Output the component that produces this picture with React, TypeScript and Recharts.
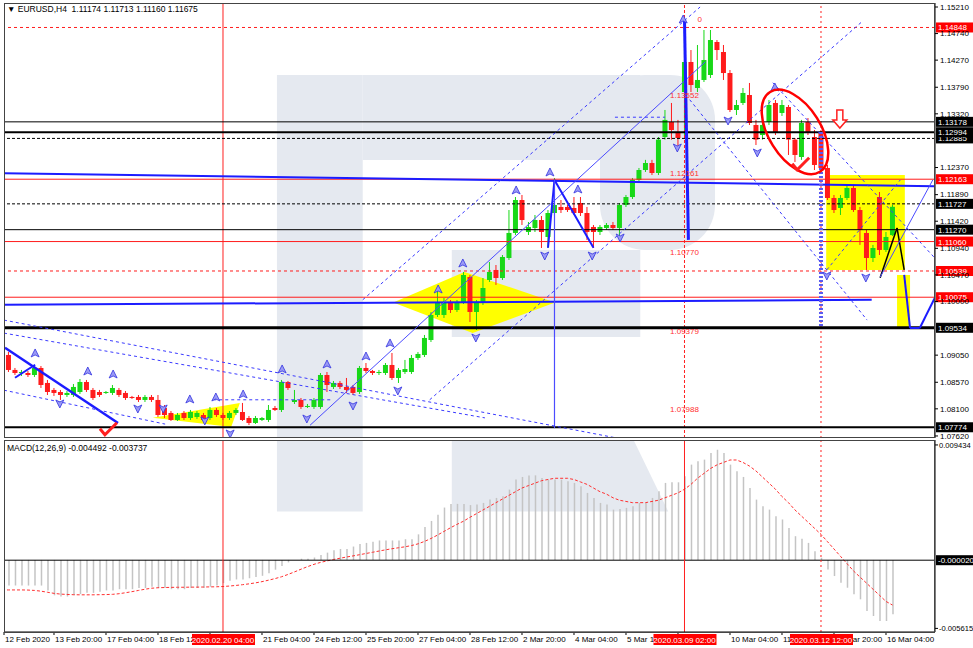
import React from 'react';
import {
  ComposedChart,
  Bar,
  Line,
  Scatter,
  XAxis,
  YAxis,
  ReferenceLine,
  ReferenceArea,
  ReferenceDot,
} from 'recharts';

const FONT = '"Liberation Sans", Arial, sans-serif';
const GREEN = '#18d818';
const RED = '#ff1c1c';
const BLUE = '#1c1cff';
const SHADE = '#e5e9f0';

// H4 candles, bar 1 .. 138
const opens = [
  1.09141, 1.09053, 1.08788, 1.08734, 1.08734, 1.08699, 1.08823, 1.08558, 1.08434, 1.08398,
  1.08345, 1.08345, 1.08398, 1.08575, 1.08434, 1.08398, 1.08381, 1.08381, 1.08434, 1.08381,
  1.0831, 1.0831, 1.08257, 1.0831, 1.08257, 1.08115, 1.08027, 1.07903, 1.08027, 1.07938,
  1.07956, 1.07991, 1.07938, 1.0808, 1.07991, 1.07938, 1.08027, 1.08044, 1.07938, 1.0785,
  1.07903, 1.07903, 1.08115, 1.0808, 1.08575, 1.08221, 1.08257, 1.08133, 1.08133, 1.08133,
  1.08699, 1.08487, 1.08558, 1.08487, 1.08487, 1.08398, 1.08823, 1.0877, 1.08734, 1.08734,
  1.08876, 1.08646, 1.08752, 1.08752, 1.09, 1.09053, 1.09318, 1.09761, 1.09761, 1.09991,
  1.09849, 1.09991, 1.10433, 1.09814, 1.09973, 1.1038, 1.10557, 1.10415, 1.10769, 1.11212,
  1.11795, 1.11229, 1.113, 1.11441, 1.11141, 1.11565, 1.11672, 1.11672, 1.11654, 1.11742,
  1.11565, 1.11318, 1.11229, 1.113, 1.11353, 1.113, 1.11707, 1.11848, 1.12149, 1.12326,
  1.1245, 1.12273, 1.1291, 1.13176, 1.12999, 1.13706, 1.14237, 1.13777, 1.13919, 1.14007,
  1.14591, 1.14414, 1.14042, 1.13388, 1.13512, 1.13653, 1.13122, 1.12945, 1.13176, 1.13512,
  1.13335, 1.13441, 1.12864, 1.12556, 1.13176, 1.1291, 1.12999, 1.12362, 1.11831, 1.11654,
  1.11831, 1.12008, 1.11618, 1.11212, 1.10769, 1.11848, 1.10911, 1.11174,
];
const highs = [
  1.09195, 1.09106, 1.08823, 1.08788, 1.0877, 1.08876, 1.08858, 1.08611, 1.08469, 1.08434,
  1.08416, 1.0854, 1.08628, 1.08611, 1.08469, 1.08434, 1.08416, 1.08522, 1.08469, 1.08416,
  1.08328, 1.08345, 1.08345, 1.08345, 1.08345, 1.08168, 1.08062, 1.08027, 1.08062, 1.0808,
  1.08062, 1.08027, 1.08133, 1.08115, 1.08027, 1.08062, 1.08115, 1.08204, 1.07974, 1.07974,
  1.07956, 1.08168, 1.08151, 1.08611, 1.08593, 1.08434, 1.08292, 1.08186, 1.08292, 1.08734,
  1.08752, 1.08593, 1.08593, 1.08646, 1.08522, 1.08858, 1.08911, 1.08788, 1.08788, 1.08911,
  1.09088, 1.08823, 1.08965, 1.09053, 1.09106, 1.09407, 1.09814, 1.10238, 1.10061, 1.10026,
  1.10026, 1.10522, 1.10468, 1.10026, 1.10415, 1.10698, 1.10645, 1.10822, 1.11618, 1.11848,
  1.11884, 1.11406, 1.1153, 1.11512, 1.11618, 1.12185, 1.11795, 1.11707, 1.11848, 1.11848,
  1.11672, 1.11353, 1.11353, 1.11388, 1.11406, 1.11742, 1.11884, 1.12185, 1.12362, 1.12505,
  1.12505, 1.1291, 1.13388, 1.13512, 1.13212, 1.15016, 1.14449, 1.14538, 1.14803, 1.14803,
  1.14626, 1.14538, 1.14095, 1.13565, 1.13777, 1.13866, 1.13212, 1.13212, 1.13565, 1.13565,
  1.13565, 1.13476, 1.12892, 1.13212, 1.13246, 1.13034, 1.13034, 1.12415, 1.11884, 1.11884,
  1.12061, 1.12061, 1.11672, 1.11265, 1.11, 1.11937, 1.11229, 1.11713,
];
const lows = [
  1.08858, 1.08752, 1.08699, 1.08681, 1.08664, 1.08664, 1.08469, 1.08345, 1.08328, 1.08257,
  1.0831, 1.0831, 1.08363, 1.08398, 1.08257, 1.0831, 1.08363, 1.08345, 1.0831, 1.08257,
  1.08275, 1.08221, 1.08221, 1.08221, 1.07956, 1.07938, 1.07885, 1.07885, 1.07903, 1.07903,
  1.07921, 1.07885, 1.07903, 1.07956, 1.07903, 1.07903, 1.07991, 1.07885, 1.07814, 1.07832,
  1.07885, 1.07868, 1.08062, 1.08044, 1.08434, 1.08186, 1.08098, 1.08115, 1.08098, 1.08098,
  1.08398, 1.08451, 1.08451, 1.08381, 1.08345, 1.08363, 1.08734, 1.08699, 1.08699, 1.08699,
  1.08611, 1.08558, 1.08717, 1.08717, 1.08965, 1.09017, 1.09283, 1.09725, 1.09708, 1.09796,
  1.09814, 1.09955, 1.09637, 1.09495, 1.09938, 1.10345, 1.10292, 1.1038, 1.10734, 1.11176,
  1.11353, 1.11176, 1.11229, 1.10946, 1.10946, 1.11512, 1.11565, 1.11583, 1.1153, 1.11512,
  1.11088, 1.10946, 1.11176, 1.11265, 1.11265, 1.11158, 1.11672, 1.11813, 1.12114, 1.12291,
  1.12237, 1.12237, 1.12864, 1.12864, 1.1268, 1.12945, 1.13706, 1.13706, 1.13883, 1.13954,
  1.14272, 1.13919, 1.13352, 1.13299, 1.13476, 1.13122, 1.12768, 1.12864, 1.13122, 1.12945,
  1.13282, 1.12592, 1.12468, 1.12505, 1.12945, 1.12326, 1.12291, 1.11795, 1.11565, 1.1153,
  1.11795, 1.11583, 1.11, 1.10557, 1.10698, 1.10822, 1.10875, 1.1116,
];
const closes = [
  1.08911, 1.08788, 1.08734, 1.08752, 1.08699, 1.08823, 1.08522, 1.08398, 1.08381, 1.08345,
  1.08381, 1.08487, 1.08575, 1.08434, 1.08292, 1.08345, 1.08398, 1.08469, 1.08345, 1.08292,
  1.08292, 1.08257, 1.0831, 1.08257, 1.07991, 1.07991, 1.07903, 1.07991, 1.07938, 1.08044,
  1.08027, 1.07903, 1.0808, 1.07991, 1.07938, 1.08027, 1.0808, 1.07903, 1.0785, 1.07938,
  1.07938, 1.0808, 1.0808, 1.08575, 1.08469, 1.08257, 1.08133, 1.08151, 1.08257, 1.08699,
  1.08522, 1.08558, 1.08487, 1.08434, 1.08381, 1.08823, 1.0877, 1.08734, 1.08752, 1.08876,
  1.08646, 1.08788, 1.08805, 1.09, 1.09071, 1.09354, 1.09761, 1.09973, 1.09991, 1.09849,
  1.09991, 1.10468, 1.09814, 1.09973, 1.10238, 1.10522, 1.10415, 1.10787, 1.11212, 1.11795,
  1.11441, 1.11318, 1.11441, 1.11229, 1.11565, 1.11707, 1.11618, 1.11618, 1.11565, 1.11565,
  1.11229, 1.11229, 1.11318, 1.11353, 1.113, 1.11707, 1.11848, 1.12149, 1.12326, 1.1245,
  1.12273, 1.12864, 1.13212, 1.13034, 1.12892, 1.14237, 1.1383, 1.13919, 1.14272, 1.14626,
  1.14449, 1.14042, 1.13388, 1.13476, 1.13689, 1.13158, 1.12864, 1.13122, 1.13476, 1.12999,
  1.13476, 1.12864, 1.12592, 1.13158, 1.12999, 1.12415, 1.12362, 1.11831, 1.11618, 1.11831,
  1.12008, 1.11618, 1.11265, 1.10769, 1.10946, 1.10911, 1.11141, 1.11675,
];

// MACD(12,26,9): histogram and signal
const macdHist = [
  -0.0021, -0.0021, -0.0021, -0.0021, -0.0021, -0.0021, -0.0021, -0.0025, -0.0029, -0.003,
  -0.003, -0.0029, -0.0028, -0.0027, -0.0027, -0.0026, -0.0025, -0.0025, -0.0024, -0.0024,
  -0.0024, -0.0023, -0.0023, -0.0022, -0.0023, -0.0023, -0.0024, -0.0024, -0.0024, -0.0023,
  -0.0023, -0.0023, -0.0022, -0.0021, -0.0019, -0.0017, -0.0016, -0.0016, -0.0015, -0.0014,
  -0.0013, -0.0011, -0.0008, -0.0005, -0.0002, 0.0, 0.0001, 0.0001, 0.0002, 0.0004,
  0.0006, 0.0008, 0.0009, 0.0009, 0.0011, 0.0013, 0.0014, 0.0015, 0.0016, 0.0016,
  0.0016, 0.0016, 0.0017, 0.0017, 0.0021, 0.0027, 0.0032, 0.0037, 0.0043, 0.0046,
  0.0046, 0.0046, 0.0045, 0.00454, 0.00468, 0.00495, 0.00509, 0.00522, 0.00577, 0.00659,
  0.00681, 0.00692, 0.00694, 0.00673, 0.00659, 0.00659, 0.00659, 0.00645, 0.00632, 0.00604,
  0.0055, 0.00509, 0.00468, 0.00454, 0.00413, 0.00419, 0.00427, 0.00441, 0.00468, 0.00468,
  0.00509, 0.00563, 0.00632, 0.00637, 0.00637, 0.00686, 0.00782, 0.00809, 0.00823, 0.00877,
  0.00904, 0.00877, 0.00782, 0.00727, 0.00681, 0.00591, 0.00495, 0.00441, 0.00413, 0.00359,
  0.00332, 0.00263, 0.00195, 0.00173, 0.0014, 0.00072, 0.00018, -0.00078, -0.00132, -0.00187,
  -0.00228, -0.00282, -0.00323, -0.00419, -0.0046, -0.00501, -0.00501, -0.00446,
];
const macdSignal = [
  -0.00246, -0.00246, -0.00246, -0.00246, -0.00247, -0.0025, -0.00256, -0.00265, -0.00274, -0.0028,
  -0.00283, -0.00285, -0.00286, -0.00286, -0.00286, -0.00285, -0.00284, -0.00282, -0.00277, -0.00269,
  -0.0026, -0.0025, -0.0024, -0.00232, -0.00228, -0.00226, -0.00225, -0.00224, -0.00224, -0.00223,
  -0.00223, -0.00222, -0.00221, -0.0022, -0.00218, -0.00214, -0.00209, -0.00203, -0.00196, -0.00188,
  -0.00178, -0.00166, -0.00153, -0.00138, -0.00119, -0.00098, -0.00076, -0.00055, -0.00036, -0.0002,
  -0.00008, 0.00004, 0.00014, 0.00024, 0.00033, 0.00043, 0.00053, 0.00063, 0.00073, 0.00083,
  0.00092, 0.001, 0.00108, 0.00118, 0.00132, 0.00152, 0.00176, 0.00204, 0.00234, 0.00264,
  0.00292, 0.00318, 0.0035, 0.0038, 0.0041, 0.0044, 0.0047, 0.005, 0.0053, 0.0056,
  0.0059, 0.0061, 0.0063, 0.0065, 0.0066, 0.0067, 0.0067, 0.0067, 0.0066, 0.0064,
  0.0062, 0.0059, 0.0056, 0.0054, 0.0051, 0.0049, 0.0048, 0.0047, 0.0047, 0.0047,
  0.0048, 0.0049, 0.0051, 0.0053, 0.0055, 0.0058, 0.0062, 0.0067, 0.0071, 0.0075,
  0.0078, 0.008, 0.0082, 0.0082, 0.008, 0.0077, 0.0073, 0.0068, 0.0063, 0.0058,
  0.0052, 0.0047, 0.0041, 0.0036, 0.0031, 0.0026, 0.0021, 0.0015, 0.0009, 0.0003,
  -0.0003, -0.0009, -0.0014, -0.0019, -0.0024, -0.0029, -0.0034, -0.0037,
];

const timeLabels = [
  '12 Feb 2020', '13 Feb 20:00', '17 Feb 04:00', '18 Feb 12:00', '19 Feb 20:00', '21 Feb 04:00',
  '24 Feb 12:00', '25 Feb 20:00', '27 Feb 04:00', '28 Feb 12:00', '2 Mar 20:00', '4 Mar 04:00',
  '5 Mar 12:00', '6 Mar 20:00', '10 Mar 04:00', '11 Mar 12:00', '12 Mar 20:00', '16 Mar 04:00',
];
const priceTicks = [
  1.1521, 1.1474, 1.1427, 1.1379, 1.1332, 1.1237, 1.1189, 1.1142, 1.1094, 1.1047, 1.1,
  1.0905, 1.0857, 1.081, 1.0762,
];
const macdTicks = [0.009434, -0.005615];

// horizontal price levels drawn on the chart
const levels = [
  { price: 1.14848, color: RED, width: 1, dash: '3 3' },
  { price: 1.13178, color: '#000', width: 1, dash: undefined },
  { price: 1.12885, color: '#000', width: 1, dash: '3 2' },
  { price: 1.12994, color: '#000', width: 2, dash: undefined },
  { price: 1.12163, color: RED, width: 1, dash: undefined },
  { price: 1.11727, color: '#000', width: 1, dash: '3 2' },
  { price: 1.1127, color: '#000', width: 1, dash: undefined },
  { price: 1.1106, color: RED, width: 1, dash: undefined },
  { price: 1.10539, color: RED, width: 1, dash: '3 3' },
  { price: 1.10075, color: RED, width: 1, dash: undefined },
  { price: 1.09534, color: '#000', width: 3, dash: undefined },
  { price: 1.07774, color: '#000', width: 2, dash: undefined },
];
const fibLevels = [1.13552, 1.12161, 1.1077, 1.09379, 1.07988];
const markerBars = [
  { bar: 35, text: '2020.02.20 04:00', dash: undefined },
  { bar: 106, text: '2020.03.09 02:00', dash: '3 2' },
  { bar: 127, text: '2020.03.12 12:00', dash: '2 3' },
];

// fractal arrows: bar, price, pointing up (true) or down (false)
const fractalBars = [
  6.1, 9.9, 14.2, 18.1, 21.9, 25.8, 29.9, 32.2, 33.9, 36.1, 38.1, 44.1, 47.9, 51, 57, 55,
  60.7, 61.9, 68.1, 71.9, 73.9, 80.1, 85.3, 84.5, 89.6, 91.8, 96.1, 104.9, 105.8, 112.7,
  117.2, 119.9, 127.9, 133.9,
];
const fractalPrices = [
  1.09071, 1.08204, 1.08752, 1.08699, 1.08115, 1.08115, 1.08257, 1.07903, 1.08292, 1.07673,
  1.08345, 1.08788, 1.07938, 1.08876, 1.09017, 1.08168, 1.09248, 1.08434, 1.10203, 1.10663,
  1.09371, 1.11955, 1.12273, 1.10822, 1.11972, 1.10822, 1.11141, 1.12733, 1.1498, 1.13211,
  1.12645, 1.13777, 1.10468, 1.10433,
];
const fractalUp = [
  true, false, true, true, false, false, true, false, true, false, true, true, false, true, true, false,
  true, false, true, true, false, true, true, false, true, false, false, false, true, false,
  false, true, false, false,
];

const data = opens.map((o, i) => ({
  bar: i + 1,
  o,
  h: highs[i],
  l: lows[i],
  c: closes[i],
  hist: macdHist[i],
  signal: macdSignal[i],
}));
const fractalData = fractalBars.map((b, i) => ({ bar: b, price: fractalPrices[i], up: fractalUp[i] }));

const X_DOMAIN: [number, number] = [1.31, 144.54];
const MACD_DOMAIN: [number, number] = [-0.00591, 0.00984];
const tickBars = timeLabels.map((_, i) => Math.max(1.31, 1 + 8 * i));

type Seg = { pts: [number, number][]; color: string; width: number; dash?: string };
const drawings: Seg[] = [
  { pts: [[1.31, 1.1227], [144.5, 1.1204]], color: BLUE, width: 2 },
  { pts: [[1.31, 1.0994], [134.8, 1.1003]], color: BLUE, width: 2 },
  { pts: [[48.4, 1.0781], [109.2, 1.1424]], color: '#4b4bff', width: 1 },
  { pts: [[1.46, 1.0918], [18.85, 1.0785]], color: BLUE, width: 2.5 },
  { pts: [[3.0, 1.0865], [6.1, 1.0888]], color: BLUE, width: 2 },
  { pts: [[85, 1.1095], [86, 1.1215], [92, 1.1095]], color: BLUE, width: 2 },
  { pts: [[86, 1.1215], [86, 1.0776]], color: '#4b4bff', width: 1.2 },
  { pts: [[106, 1.1498], [106.6, 1.1109]], color: BLUE, width: 3 },
  { pts: [[127, 1.13], [127, 1.0953]], color: '#5a5af0', width: 4, dash: '2 2' },
  { pts: [[136.1, 1.1042], [138.7, 1.113], [139.8, 1.1056]], color: '#000', width: 1.5 },
  { pts: [[139.8, 1.1047], [140.7, 1.0953], [142.2, 1.0953], [144.5, 1.1006]], color: BLUE, width: 2 },
  { pts: [[136.1, 1.1043], [144.2, 1.1215]], color: '#4b4bff', width: 1 },
  { pts: [[1.31, 1.0967], [95.3, 1.0759]], color: '#3a3aff', width: 1, dash: '3 3' },
  { pts: [[1.31, 1.0944], [75.3, 1.0794]], color: '#3a3aff', width: 1, dash: '3 3' },
  { pts: [[1.31, 1.0843], [26.1, 1.0783]], color: '#3a3aff', width: 1, dash: '3 3' },
  { pts: [[56.5, 1.1003], [108.4, 1.1521]], color: '#3a3aff', width: 1, dash: '3 3' },
  { pts: [[66.8, 1.0826], [133.3, 1.1495]], color: '#3a3aff', width: 1, dash: '3 3' },
  { pts: [[119.6, 1.1387], [144.5, 1.1077]], color: '#3a3aff', width: 1, dash: '3 3' },
  { pts: [[106.8, 1.1357], [134.1, 1.0967]], color: '#3a3aff', width: 1, dash: '3 3' },
  { pts: [[33.5, 1.0826], [51.5, 1.0826]], color: '#3a3aff', width: 1, dash: '3 3' },
  { pts: [[95.3, 1.1326], [103, 1.1326]], color: '#3a3aff', width: 1, dash: '3 3' },
  { pts: [[127.9, 1.1056], [139.2, 1.1215]], color: '#3a3aff', width: 1, dash: '3 3' },
];

const Candle = (props: any) => {
  const { x, y, width, height, payload } = props;
  if (!payload) return null;
  const { o, h, l, c } = payload;
  const cx = x + width / 2;
  const top = Math.min(y, y + height);
  const span = Math.abs(height);
  const toY = (v: number) => (h === l ? top : top + ((h - v) / (h - l)) * span);
  const color = c >= o ? GREEN : RED;
  const yo = toY(o);
  const yc = toY(c);
  return (
    <g>
      <line x1={cx} x2={cx} y1={top} y2={top + span} stroke={color} strokeWidth={1} />
      <rect x={cx - 2.5} y={Math.min(yo, yc)} width={5} height={Math.max(1, Math.abs(yo - yc))} fill={color} />
    </g>
  );
};

const FractalArrow = (props: any) => {
  const { cx, cy, payload } = props;
  if (cx == null || cy == null) return null;
  const d = payload.up
    ? `M${cx},${cy - 5} L${cx + 4},${cy + 3} L${cx},${cy + 1} L${cx - 4},${cy + 3} Z`
    : `M${cx},${cy + 5} L${cx + 4},${cy - 3} L${cx},${cy - 1} L${cx - 4},${cy - 3} Z`;
  return <path d={d} fill="#9a9af5" stroke="#3232e0" strokeWidth={0.8} />;
};

const priceTag = (text: string, fill: string) => (props: any) => {
  const vb = props.viewBox;
  if (!vb) return null;
  const x = vb.x + vb.width + 1;
  const y = vb.y;
  return (
    <g>
      <rect x={x} y={y - 5} width={38} height={10} fill={fill} />
      <text x={x + 2} y={y + 3} fontSize={8} fill="#fff" fontFamily={FONT}>
        {text}
      </text>
    </g>
  );
};

const timeTag = (text: string) => (props: any) => {
  const vb = props.viewBox;
  if (!vb) return null;
  const bottom = vb.y + vb.height;
  return (
    <g>
      <rect x={vb.x - 31} y={bottom + 2} width={63} height={11} fill="#ff0000" />
      <text x={vb.x} y={bottom + 10.5} fontSize={8} fill="#fff" textAnchor="middle" fontFamily={FONT}>
        {text}
      </text>
    </g>
  );
};

const TimeTick = (props: any) => {
  const { x, y, payload } = props;
  const idx = tickBars.indexOf(payload.value);
  // labels sitting right under a red time marker are hidden by it
  const covered = markerBars.some((m) => payload.value <= m.bar && m.bar - payload.value <= 2);
  if (covered) return null;
  return (
    <text x={x + 1} y={y + 5} fontSize={8} fill="#000" fontFamily={FONT} textAnchor="start">
      {timeLabels[idx] ?? ''}
    </text>
  );
};

const diamond = (p: any) => {
  const { x, y, width: w, height: hh } = p;
  const pts = `${x},${y + hh * 0.5} ${x + w * 0.44},${y} ${x + w},${y + hh * 0.5} ${x + w * 0.49},${y + hh}`;
  return <polygon points={pts} fill="#ffff00" />;
};
const flag = (p: any) => {
  const { x, y, width: w, height: hh } = p;
  const pts = `${x},${y + hh * 0.62} ${x + w},${y} ${x + w * 0.9},${y + hh}`;
  return <polygon points={pts} fill="#ffff00" />;
};
const roundBlock = (p: any) => <rect x={p.x} y={p.y} width={p.width} height={p.height} rx={45} fill={SHADE} />;
const slantLeg = (p: any) => {
  const { x, y, width: w, height: hh } = p;
  const pts = `${x},${y} ${x + w * 0.84},${y} ${x + w},${y + hh} ${x},${y + hh}`;
  return <polygon points={pts} fill={SHADE} />;
};

const MainChart = () => (
  <ComposedChart width={973} height={440} data={data} margin={{ top: 3, right: 0, left: 4, bottom: 2 }}>
    {/* background watermark */}
    <ReferenceArea x1={43.3} x2={56.5} y1={1.07584} y2={1.14007} fill={SHADE} fillOpacity={1} ifOverflow="hidden" />
    <ReferenceArea x1={56.5} x2={99.2} y1={1.12503} y2={1.14007} fill={SHADE} fillOpacity={1} ifOverflow="hidden" />
    <ReferenceArea x1={93} x2={110.7} y1={1.10911} y2={1.14007} shape={roundBlock} ifOverflow="hidden" />
    <ReferenceArea x1={70.2} x2={99.2} y1={1.09371} y2={1.10911} fill={SHADE} fillOpacity={1} ifOverflow="hidden" />
    {/* yellow patterns */}
    <ReferenceArea x1={61.2} x2={86.1} y1={1.09442} y2={1.10522} shape={diamond} ifOverflow="hidden" />
    <ReferenceArea x1={24.2} x2={37.6} y1={1.07779} y2={1.08204} shape={flag} ifOverflow="hidden" />
    <ReferenceArea x1={127.8} x2={139.9} y1={1.10557} y2={1.12238} fill="#ffff00" fillOpacity={1} ifOverflow="hidden" />
    <ReferenceArea x1={138.7} x2={140.7} y1={1.09531} y2={1.10468} fill="#ffff00" fillOpacity={1} ifOverflow="hidden" />

    <XAxis dataKey="bar" type="number" domain={X_DOMAIN} allowDataOverflow hide />
    <YAxis
      orientation="right"
      type="number"
      domain={[1.07584, 1.15281]}
      allowDataOverflow
      ticks={priceTicks}
      interval={0}
      width={38}
      tickFormatter={(v: number) => v.toFixed(5)}
      tick={{ fontSize: 8, fill: '#000', fontFamily: FONT }}
      tickSize={3}
      tickMargin={2}
      axisLine={{ stroke: '#000' }}
      tickLine={{ stroke: '#000' }}
    />

    <Bar dataKey={(d: any) => [d.l, d.h]} barSize={5} shape={<Candle />} isAnimationActive={false} />

    {markerBars.map((m) => (
      <ReferenceLine key={m.bar} x={m.bar} stroke="#ff2020" strokeWidth={1} strokeDasharray={m.dash} />
    ))}
    {levels.map((lv) => (
      <ReferenceLine
        key={lv.price}
        y={lv.price}
        stroke={lv.color}
        strokeWidth={lv.width}
        strokeDasharray={lv.dash}
        label={priceTag(lv.price.toFixed(5), lv.color === RED ? '#ff0000' : '#000')}
      />
    ))}
    {drawings.flatMap((d, i) =>
      d.pts.slice(1).map((pt, j) => (
        <ReferenceLine
          key={`d${i}-${j}`}
          segment={[{ x: d.pts[j][0], y: d.pts[j][1] }, { x: pt[0], y: pt[1] }]}
          stroke={d.color}
          strokeWidth={d.width}
          strokeDasharray={d.dash}
          ifOverflow="hidden"
        />
      )),
    )}
    <Scatter data={fractalData} dataKey="price" shape={<FractalArrow />} isAnimationActive={false} />
    {fibLevels.map((f) => (
      <ReferenceDot
        key={f}
        x={106}
        y={f}
        r={0}
        shape={(p: any) => (
          <text x={p.cx} y={p.cy - 3} fontSize={8} fill="#ff3030" textAnchor="middle" fontFamily={FONT}>
            {f.toFixed(5)}
          </text>
        )}
      />
    ))}
    <ReferenceDot
      x={106}
      y={1.14943}
      r={0}
      shape={(p: any) => (
        <text x={p.cx + 13} y={p.cy} fontSize={8} fill="#ff3030" fontFamily={FONT}>
          0
        </text>
      )}
    />
    <ReferenceDot
      x={123}
      y={1.13}
      r={0}
      shape={(p: any) => (
        <ellipse
          cx={p.cx}
          cy={p.cy}
          rx={47}
          ry={26}
          transform={`rotate(58 ${p.cx} ${p.cy})`}
          fill="none"
          stroke="#ff0000"
          strokeWidth={2.5}
        />
      )}
    />
    <ReferenceDot
      x={129.9}
      y={1.1321}
      r={0}
      shape={(p: any) => (
        <path
          d={`M${p.cx - 3},${p.cy - 10} L${p.cx + 3},${p.cy - 10} L${p.cx + 3},${p.cy} L${p.cx + 7},${p.cy} L${p.cx},${p.cy + 8} L${p.cx - 7},${p.cy} L${p.cx - 3},${p.cy} Z`}
          fill="#fff"
          stroke="#ff2020"
          strokeWidth={1.5}
        />
      )}
    />
    {[
      { bar: 17.3, price: 1.0773 },
      { bar: 123.8, price: 1.1242 },
    ].map((m) => (
      <ReferenceDot
        key={m.bar}
        x={m.bar}
        y={m.price}
        r={0}
        shape={(p: any) => (
          <path
            d={`M${p.cx - 8},${p.cy - 1} L${p.cx - 3},${p.cy + 5} L${p.cx + 9},${p.cy - 7}`}
            fill="none"
            stroke="#ff2020"
            strokeWidth={3}
          />
        )}
      />
    ))}
  </ComposedChart>
);

const MacdChart = () => (
  <ComposedChart width={973} height={208} data={data} margin={{ top: 0, right: 0, left: 4, bottom: 0 }}>
    <ReferenceArea x1={43.3} x2={56.5} y1={0.00397} y2={0.00984} fill={SHADE} fillOpacity={1} ifOverflow="hidden" />
    <ReferenceArea x1={70.2} x2={103.5} y1={0.00397} y2={0.00984} shape={slantLeg} ifOverflow="hidden" />
    <XAxis
      dataKey="bar"
      type="number"
      domain={X_DOMAIN}
      allowDataOverflow
      ticks={tickBars}
      interval={0}
      height={16}
      tick={<TimeTick />}
      tickSize={3}
      axisLine={{ stroke: '#000' }}
      tickLine={{ stroke: '#000' }}
    />
    <YAxis
      orientation="right"
      type="number"
      domain={MACD_DOMAIN}
      allowDataOverflow
      ticks={macdTicks}
      interval={0}
      width={38}
      tickFormatter={(v: number) => v.toFixed(6)}
      tick={{ fontSize: 7.6, fill: '#000', fontFamily: FONT }}
      tickSize={3}
      tickMargin={1}
      axisLine={{ stroke: '#000' }}
      tickLine={{ stroke: '#000' }}
    />
    <Bar dataKey="hist" barSize={1.5} fill="#c4c4c4" isAnimationActive={false} />
    <Line
      dataKey="signal"
      type="linear"
      stroke="#ff3030"
      strokeWidth={1}
      strokeDasharray="3 2"
      dot={false}
      isAnimationActive={false}
    />
    <ReferenceLine y={-0.00002} stroke="#000" strokeWidth={1} label={priceTag('-0.000020', '#000')} />
    {markerBars.map((m) => (
      <ReferenceLine
        key={m.bar}
        x={m.bar}
        stroke="#ff2020"
        strokeWidth={1}
        strokeDasharray={m.bar === 127 ? '2 3' : undefined}
      />
    ))}
  </ComposedChart>
);

// transparent layer on top of the MACD pane so the red time tags cover the axis labels
const MarkerTags = () => (
  <ComposedChart width={973} height={208} data={data} margin={{ top: 0, right: 0, left: 4, bottom: 0 }}>
    <XAxis dataKey="bar" type="number" domain={X_DOMAIN} allowDataOverflow height={16} tick={false} axisLine={false} tickLine={false} />
    <YAxis orientation="right" type="number" domain={MACD_DOMAIN} allowDataOverflow width={38} tick={false} axisLine={false} tickLine={false} />
    {markerBars.map((m) => (
      <ReferenceLine key={m.bar} x={m.bar} stroke="#ff2020" strokeOpacity={0} label={timeTag(m.text)} />
    ))}
  </ComposedChart>
);

export default function App() {
  return (
    <div
      style={{
        position: 'absolute',
        left: 0,
        top: 0,
        width: 973,
        height: 648,
        background: '#fff',
        overflow: 'hidden',
        fontFamily: FONT,
      }}
    >
      <div style={{ position: 'absolute', left: 0, top: 0 }}>
        <MainChart />
      </div>
      <div style={{ position: 'absolute', left: 0, top: 440 }}>
        <MacdChart />
      </div>
      <div style={{ position: 'absolute', left: 0, top: 440, pointerEvents: 'none' }}>
        <MarkerTags />
      </div>
      {/* pane frames */}
      <div style={{ position: 'absolute', left: 4, top: 3, width: 931, height: 435, border: '1px solid #444', boxSizing: 'border-box', pointerEvents: 'none' }} />
      <div style={{ position: 'absolute', left: 4, top: 440, width: 931, height: 193, border: '1px solid #444', boxSizing: 'border-box', pointerEvents: 'none' }} />
      <div style={{ position: 'absolute', left: 7, top: 4, fontSize: 8.5, color: '#000', whiteSpace: 'pre' }}>
        {'\u25BC EURUSD,H4  1.11174 1.11713 1.11160 1.11675'}
      </div>
      <div style={{ position: 'absolute', left: 7, top: 443, fontSize: 8.5, color: '#000', whiteSpace: 'pre' }}>
        {'MACD(12,26,9) -0.004492 -0.003737'}
      </div>
    </div>
  );
}
